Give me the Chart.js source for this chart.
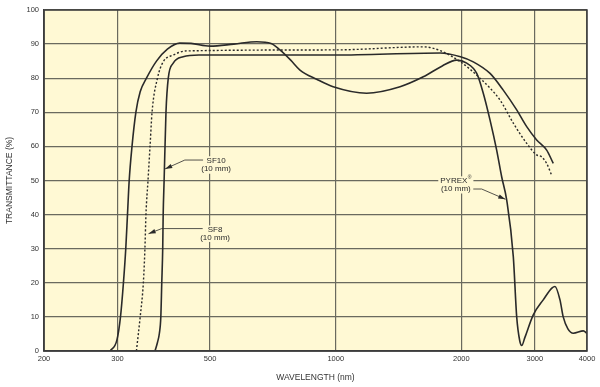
<!DOCTYPE html>
<html>
<head>
<meta charset="utf-8">
<script src="https://cdn.jsdelivr.net/npm/chart.js@4"></script>
<style>
  html, body { margin: 0; padding: 0; background: #ffffff; }
  #wrap { width: 600px; height: 387px; }
</style>
</head>
<body>
<div id="wrap"><canvas id="glassChart" width="600" height="387"></canvas></div>
<script>
// tick labels
const xTicks = [200, 300, 500, 1000, 2000, 3000, 4000];
const yTicks = [0, 10, 20, 30, 40, 50, 60, 70, 80, 90, 100];

// PYREX (10 mm) - wavelength (nm) / transmittance (%)
const pyrexWl = [288, 299, 305, 310, 314, 317, 320, 325, 332, 340, 352, 372, 395, 423, 450, 500, 570, 647, 700, 735, 780, 821, 900, 986, 1186, 1426, 1621, 1800, 1948, 2060, 2177, 2257, 2343, 2430, 2498, 2568, 2664, 2714, 2760, 2790, 2840, 2974, 3142, 3300, 3352, 3446, 3508, 3600, 3708, 3920, 4000];
const pyrexT  = [0, 3.2, 10, 20, 30, 40, 50, 60, 70, 76, 80, 85, 88.5, 90.3, 90.2, 89.4, 90.0, 90.7, 90.2, 88.3, 85.3, 82.4, 79.7, 77.5, 75.6, 77.5, 80.4, 83.6, 85.3, 84.4, 81.4, 75.6, 67.7, 58.9, 51.1, 44.3, 27.6, 10, 3, 1.6, 4, 10.6, 15, 18.5, 18.9, 15, 10, 6.5, 5.2, 5.9, 5.2];

// SF10 (10 mm)
const sf10Wl = [369, 374, 378, 381, 383, 385, 386, 388, 392, 397, 408, 431, 470, 1000, 1778, 1990, 2136, 2343, 2520, 2714, 2868, 3030, 3202, 3321];
const sf10T  = [0, 2.5, 5.2, 10, 20, 30, 40, 50, 70, 80, 84.4, 86.3, 86.8, 86.8, 87.4, 86.3, 84.8, 81.4, 76.5, 70.7, 65.8, 61.9, 58.9, 55];

// SF8 (10 mm)
const sf8Wl = [333, 340, 346, 349, 351, 355, 359, 363, 374, 386, 408, 439, 1000, 1621, 1778, 1990, 2216, 2475, 2664, 2868, 3030, 3110, 3202, 3290];
const sf8T  = [0, 10, 20, 30, 40, 50, 60, 70, 80, 84.8, 86.8, 88, 88.3, 89.2, 88.1, 84.8, 80, 73.6, 66.8, 60.9, 57.5, 57, 55, 51.6];

// callout labels (data coordinates)
const callouts = [
    { lines: ['SF10', '(10 mm)'], at: [517, 55.8, 53.3], path: [[481, 56], [435, 56], [390, 53.4]] },
    { lines: ['SF8', '(10 mm)'], at: [514, 35.5, 33.3], path: [[480, 35.9], [383, 35.9], [356, 34.4]] },
    { lines: ['PYREX', '(10 mm)'], at: [1940, 49.9, 47.5], path: [[2136, 47.5], [2237, 47.5], [2550, 44.5]], reg: true }
];

const FONT = "'Liberation Sans', Arial, sans-serif";
const INK = '#2a2a2a';
const PAPER = '#fff9d4';

function toPoints(wl, t) {
    return wl.map((w, i) => ({ x: w, y: t[i] }));
}

const plotBackground = {
    id: 'plotBackground',
    beforeDraw(chart) {
        const { ctx, chartArea: a } = chart;
        ctx.save();
        ctx.fillStyle = PAPER;
        ctx.fillRect(a.left, a.top, a.right - a.left, a.bottom - a.top);
        ctx.restore();
    },
    afterDatasetsDraw(chart) {
        const { ctx, chartArea: a } = chart;
        const xs = chart.scales.x, ys = chart.scales.y;
        ctx.save();
        ctx.strokeStyle = '#3c3c3c';
        ctx.lineWidth = 1.5;
        ctx.strokeRect(a.left, a.top, a.right - a.left, a.bottom - a.top);

        // callouts
        ctx.textBaseline = 'middle';
        callouts.forEach(c => {
            const cx = xs.getPixelForValue(c.at[0]);
            c.lines.forEach((txt, i) => {
                const cy = ys.getPixelForValue(c.at[1 + i]);
                ctx.font = '8px ' + FONT;
                const tw = ctx.measureText(txt).width;
                const sup = c.reg && i === 0;
                const w = tw + (sup ? 4 : 0);
                const x0 = cx - w / 2;
                ctx.fillStyle = PAPER;
                ctx.fillRect(x0 - 2, cy - 4.5, w + 4, 9);
                ctx.fillStyle = INK;
                ctx.textAlign = 'left';
                ctx.fillText(txt, x0, cy);
                if (sup) {
                    ctx.font = '5px ' + FONT;
                    ctx.fillText('®', x0 + tw + 0.3, cy - 3.5);
                }
            });
            const pts = c.path.map(p => [xs.getPixelForValue(p[0]), ys.getPixelForValue(p[1])]);
            ctx.strokeStyle = INK;
            ctx.lineWidth = 0.8;
            ctx.beginPath();
            ctx.moveTo(pts[0][0], pts[0][1]);
            for (let i = 1; i < pts.length; i++) ctx.lineTo(pts[i][0], pts[i][1]);
            ctx.stroke();
            // arrow head
            const [tx, ty] = pts[pts.length - 1];
            const [px, py] = pts[pts.length - 2];
            const ang = Math.atan2(ty - py, tx - px);
            ctx.fillStyle = INK;
            ctx.beginPath();
            ctx.moveTo(tx, ty);
            ctx.lineTo(tx - 7.5 * Math.cos(ang - 0.3), ty - 7.5 * Math.sin(ang - 0.3));
            ctx.lineTo(tx - 7.5 * Math.cos(ang + 0.3), ty - 7.5 * Math.sin(ang + 0.3));
            ctx.closePath();
            ctx.fill();
        });
        ctx.restore();
    }
};

const lineStyle = {
    borderColor: INK,
    borderWidth: 1.6,
    pointRadius: 0,
    fill: false,
    cubicInterpolationMode: 'monotone'
};

new Chart(document.getElementById('glassChart'), {
    type: 'line',
    data: {
        datasets: [
            Object.assign({ label: 'PYREX (10 mm)', data: toPoints(pyrexWl, pyrexT) }, lineStyle),
            Object.assign({ label: 'SF10 (10 mm)', data: toPoints(sf10Wl, sf10T) }, lineStyle),
            Object.assign({ label: 'SF8 (10 mm)', data: toPoints(sf8Wl, sf8T) }, lineStyle, { borderDash: [2, 2], borderWidth: 1.4 })
        ]
    },
    options: {
        responsive: false,
        animation: false,
        layout: { padding: { top: 10, right: 13, left: 0, bottom: 0 } },
        plugins: {
            legend: { display: false },
            tooltip: { enabled: false }
        },
        scales: {
            x: {
                type: 'logarithmic',
                min: 200,
                max: 4000,
                afterBuildTicks: scale => { scale.ticks = xTicks.map(v => ({ value: v })); },
                afterFit: scale => { scale.height = 36; },
                ticks: {
                    autoSkip: false,
                    maxRotation: 0,
                    padding: 3,
                    color: '#333',
                    font: { family: FONT, size: 7.5 },
                    callback: v => String(v)
                },
                grid: { color: '#6a6a5e', lineWidth: 1.2, drawTicks: false },
                border: { color: '#3c3c3c', width: 1.5 },
                title: {
                    display: true,
                    text: 'WAVELENGTH (nm)',
                    color: '#333',
                    font: { family: FONT, size: 8.5 },
                    padding: { top: 0, bottom: 4 }
                }
            },
            y: {
                min: 0,
                max: 100,
                afterBuildTicks: scale => { scale.ticks = yTicks.map(v => ({ value: v })); },
                afterFit: scale => { scale.width = 44; },
                ticks: {
                    padding: 5,
                    color: '#333',
                    font: { family: FONT, size: 7.5 }
                },
                grid: { color: '#6a6a5e', lineWidth: 1.2, drawTicks: false },
                border: { color: '#3c3c3c', width: 1.5 },
                title: {
                    display: true,
                    text: 'TRANSMITTANCE (%)',
                    color: '#333',
                    font: { family: FONT, size: 8.5 },
                    padding: { top: 5, bottom: 0 }
                }
            }
        }
    },
    plugins: [plotBackground]
});
</script>
</body>
</html>
